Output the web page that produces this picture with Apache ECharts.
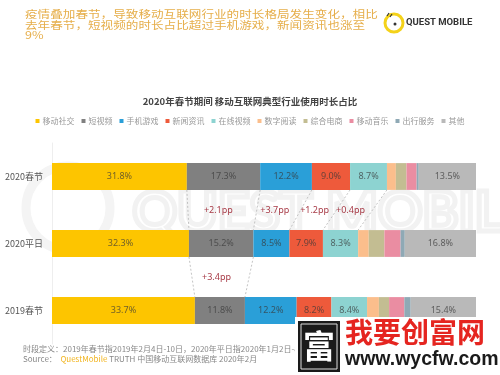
<!DOCTYPE html>
<html>
<head>
<meta charset="utf-8">
<script src="https://cdn.jsdelivr.net/npm/echarts@6/dist/echarts.min.js"></script>
<style>html,body{margin:0;padding:0;background:#fff}#c{width:500px;height:375px}</style>
</head>
<body>
<div id="c"></div>
<script>
const categories = ['2020春节', '2020平日', '2019春节'];
const seriesNames = ['移动社交', '短视频', '手机游戏', '新闻资讯', '在线视频', '数字阅读', '综合电商', '移动音乐', '出行服务', '其他'];
const social = [31.8, 32.3, 33.7];
const shortVideo = [17.3, 15.2, 11.8];
const mobileGame = [12.2, 8.5, 12.2];
const news = [9.0, 7.9, 8.2];
const onlineVideo = [8.7, 8.3, 8.4];
const reading = [2.1, 2.5, 2.8];
const ecommerce = [2.5, 3.7, 2.4];
const music = [2.4, 3.8, 3.6];
const travel = [0.5, 1.0, 1.5];
const others = [13.5, 16.8, 15.4];
const labeledSeries = [true, true, true, true, true, false, false, false, false, true];
// connectors: [fromRow, toRow, boundary after segment k]
const connectors = [[0, 1, 0], [0, 1, 1], [0, 1, 2], [0, 1, 3], [0, 1, 4], [1, 2, 0], [1, 2, 1]];
// change labels: placed between boundaries
const changeLabels = ['+2.1pp', '+3.7pp', '+1.2pp', '+0.4pp', '+3.4pp'];
const changePairs = [[0, 1, 0, 1], [0, 1, 1, 2], [0, 1, 2, 3], [0, 1, 3, 4], [1, 2, 0, 1]];

const colors = ['#FDC500', '#808080', '#2A9FD8', '#EE5A3B', '#8DD3D1', '#FBBE8C', '#C3BD92', '#EA8DA2', '#8FA9B5', '#B9B9B9'];
const allRows = [social, shortVideo, mobileGame, news, onlineVideo, reading, ecommerce, music, travel, others];

function cum(row, k) { let s = 0; for (let i = 0; i <= k; i++) s += allRows[i][row]; return s; }

const chart = echarts.init(document.getElementById('c'), null, {renderer: 'canvas'});

const barSeries = seriesNames.map((n, i) => ({
  name: n, type: 'bar', stack: 'total', barWidth: '40%',
  data: allRows[i],
  itemStyle: {color: colors[i]},
  label: {show: labeledSeries[i], position: 'inside', formatter: p => p.value.toFixed(1) + '%',
    fontSize: 9, color: 'rgba(55,55,55,0.72)', fontFamily: 'Noto Sans'},
  emphasis: {disabled: true}
}));

const connectorSeries = {
  type: 'custom', silent: true, z: 5,
  encode: {x: 2, y: 0},
  data: connectors.map(c => [c[0], c[1], cum(c[0], c[2]), cum(c[1], c[2])]),
  renderItem: (params, api) => {
    const fr = api.value(0), tr = api.value(1);
    const half = api.size([0, 1])[1] * 0.2;
    const p1 = api.coord([api.value(2), fr]);
    const p2 = api.coord([api.value(3), tr]);
    return {type: 'line', shape: {x1: p1[0], y1: p1[1] + half, x2: p2[0], y2: p2[1] - half},
      style: {stroke: '#b5b5b5', lineWidth: 0.8, lineDash: [2, 2]}};
  }
};

const labelSeries = {
  type: 'custom', silent: true, z: 6,
  encode: {x: 2, y: 0},
  data: changePairs.map(c => [c[0], c[1], cum(c[0], c[2]), cum(c[1], c[2]), cum(c[0], c[3]), cum(c[1], c[3])]),
  renderItem: (params, api) => {
    const fr = api.value(0), tr = api.value(1);
    const a1 = api.coord([api.value(2), fr]), a2 = api.coord([api.value(3), tr]);
    const b1 = api.coord([api.value(4), fr]), b2 = api.coord([api.value(5), tr]);
    const x = (a1[0] + a2[0] + b1[0] + b2[0]) / 4 - 4;
    const y = (a1[1] + a2[1]) / 2;
    return {type: 'text', x: x, y: y,
      style: {text: changeLabels[params.dataIndex], fill: '#A83C48', fontSize: 9, fontFamily: 'Noto Sans',
        align: 'center', verticalAlign: 'middle'}};
  }
};

const option = {
  animation: false,
  backgroundColor: '#fff',
  title: {text: '2020年春节期间 移动互联网典型行业使用时长占比', left: 'center', top: 92,
    textStyle: {fontSize: 9.5, fontWeight: 'bold', color: '#444', fontFamily: 'Noto Sans CJK SC'}},
  legend: {data: seriesNames, top: 112, left: 'center', itemWidth: 4, itemHeight: 4, itemGap: 7, icon: 'rect',
    textStyle: {fontSize: 8, color: '#999', fontFamily: 'Noto Sans CJK SC', padding: [0, 0, 0, -2]}},
  grid: {left: 52, right: 24, top: 143, bottom: 31, containLabel: false, outerBoundsMode: 'none'},
  xAxis: {type: 'value', min: 0, max: 100, show: false},
  yAxis: {type: 'category', data: categories, inverse: true,
    axisLine: {show: true, lineStyle: {color: '#eeeeee'}}, axisTick: {show: false},
    axisLabel: {fontSize: 9, color: '#555', margin: 9, fontFamily: 'Noto Sans CJK SC'}},
  graphic: [
    {type: 'circle', z: -10, shape: {cx: 68, cy: 208, r: 42}, style: {fill: 'none', stroke: '#f4f4f4', lineWidth: 9}},
    {type: 'text', z: -10, left: 130, top: 183, style: {text: 'QUEST MOBILE', fontSize: 55, fontWeight: 'bold',
      fill: 'none', stroke: '#f2f2f2', lineWidth: 5, fontFamily: 'Lato'}},
    {type: 'text', x: 25, y: 9, scaleX: 1.2, style: {text: '疫情叠加春节，导致移动互联网行业的时长格局发生变化，相比',
      fontSize: 10.5, fill: '#E6AE4A', fontFamily: 'Noto Sans CJK SC'}},
    {type: 'text', x: 25, y: 19.5, scaleX: 1.2, style: {text: '去年春节，短视频的时长占比超过手机游戏，新闻资讯也涨至',
      fontSize: 10.5, fill: '#E6AE4A', fontFamily: 'Noto Sans CJK SC'}},
    {type: 'text', x: 25, y: 30, scaleX: 1.2, style: {text: '9%', fontSize: 10.5, fill: '#E6AE4A', fontFamily: 'Noto Sans CJK SC'}},
    {type: 'circle', shape: {cx: 394, cy: 23, r: 9}, style: {fill: 'none', stroke: '#F4D21A', lineWidth: 3}},
    {type: 'circle', shape: {cx: 395, cy: 24, r: 1.5}, style: {fill: '#333'}},
    {type: 'line', shape: {x1: 387, y1: 16, x2: 389, y2: 13}, style: {stroke: '#333', lineWidth: 1.2}},
    {type: 'line', shape: {x1: 390, y1: 17, x2: 392, y2: 14}, style: {stroke: '#333', lineWidth: 1.2}},
    {type: 'text', x: 406, y: 18, style: {text: 'QUEST MOBILE', fontSize: 9.5, fontWeight: 'bold', fill: '#333', fontFamily: 'Roboto'}},
    {type: 'text', x: 23, y: 345, style: {text: '时段定义：2019年春节指2019年2月4日-10日，2020年平日指2020年1月2日-8日',
      fontSize: 8, fill: '#888', fontFamily: 'Noto Sans CJK SC'}},
    {type: 'text', x: 23, y: 355, style: {rich: {a: {fontSize: 8, fill: '#888', fontFamily: 'Noto Sans CJK SC'},
      b: {fontSize: 8, fill: '#F2B520', fontFamily: 'Noto Sans CJK SC'}},
      text: '{a|Source：  }{b|QuestMobile}{a| TRUTH 中国移动互联网数据库 2020年2月}'}},
    {type: 'rect', z: 50, shape: {x: 295, y: 317, width: 205, height: 58}, style: {fill: '#fff'}},
    {type: 'rect', z: 51, shape: {x: 298, y: 321, width: 42, height: 51}, style: {fill: '#1a1a1a'}},
    {type: 'rect', z: 52, shape: {x: 301, y: 324, width: 36, height: 45}, style: {fill: 'none', stroke: '#ddd', lineWidth: 1}},
    {type: 'text', z: 53, x: 319, y: 346, style: {text: '富', fontSize: 32, fontWeight: 'bold', fill: '#fff', align: 'center',
      verticalAlign: 'middle', fontFamily: 'Noto Sans CJK SC'}},
    {type: 'text', z: 53, x: 345, y: 318, style: {text: '我要创富网', fontSize: 28, fontWeight: 'bold', fill: '#E52520',
      fontFamily: 'Noto Sans CJK SC'}},
    {type: 'text', z: 53, x: 345, y: 350, style: {text: 'www.wycfw.com', fontSize: 19.5, fontWeight: 'bold', fill: '#1a1a1a',
      fontFamily: 'Liberation Sans'}}
  ],
  series: barSeries.concat([connectorSeries, labelSeries])
};
chart.setOption(option);
</script>
</body>
</html>
